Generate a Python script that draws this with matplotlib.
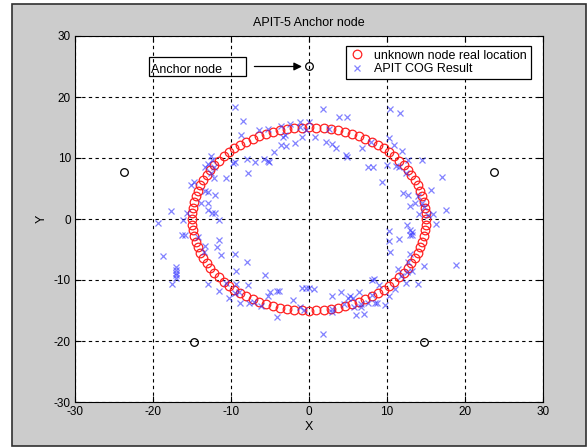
import matplotlib
matplotlib.use("Agg")
import matplotlib.pyplot as plt
from matplotlib.patches import Rectangle

plt.rcParams['font.family'] = ['Liberation Sans', 'DejaVu Sans']
plt.rcParams['axes.unicode_minus'] = False

# unknown node real locations (ring of radius 15, 100 nodes)
real_x = [15.00, 14.97, 14.88, 14.73, 14.53, 14.27, 13.95, 13.57, 13.14, 12.66, 12.14, 11.56, 10.93,
          10.27, 9.56, 8.82, 8.04, 7.23, 6.39, 5.52, 4.64, 3.73, 2.81, 1.88, 0.94, 0.00,
          -0.94, -1.88, -2.81, -3.73, -4.64, -5.52, -6.39, -7.23, -8.04, -8.82, -9.56, -10.27, -10.93,
          -11.56, -12.14, -12.66, -13.14, -13.57, -13.95, -14.27, -14.53, -14.73, -14.88, -14.97, -15.00,
          -14.97, -14.88, -14.73, -14.53, -14.27, -13.95, -13.57, -13.14, -12.66, -12.14, -11.56, -10.93,
          -10.27, -9.56, -8.82, -8.04, -7.23, -6.39, -5.52, -4.64, -3.73, -2.81, -1.88, -0.94, 0.00,
          0.94, 1.88, 2.81, 3.73, 4.64, 5.52, 6.39, 7.23, 8.04, 8.82, 9.56, 10.27, 10.93,
          11.56, 12.14, 12.66, 13.14, 13.57, 13.95, 14.27, 14.53, 14.73, 14.88, 14.97]
real_y = [0.00, 0.94, 1.88, 2.81, 3.73, 4.64, 5.52, 6.39, 7.23, 8.04, 8.82, 9.56, 10.27,
          10.93, 11.56, 12.14, 12.66, 13.14, 13.57, 13.95, 14.27, 14.53, 14.73, 14.88, 14.97, 15.00,
          14.97, 14.88, 14.73, 14.53, 14.27, 13.95, 13.57, 13.14, 12.66, 12.14, 11.56, 10.93, 10.27,
          9.56, 8.82, 8.04, 7.23, 6.39, 5.52, 4.64, 3.73, 2.81, 1.88, 0.94, 0.00,
          -0.94, -1.88, -2.81, -3.73, -4.64, -5.52, -6.39, -7.23, -8.04, -8.82, -9.56, -10.27,
          -10.93, -11.56, -12.14, -12.66, -13.14, -13.57, -13.95, -14.27, -14.53, -14.73, -14.88, -14.97, -15.00,
          -14.97, -14.88, -14.73, -14.53, -14.27, -13.95, -13.57, -13.14, -12.66, -12.14, -11.56, -10.93, -10.27,
          -9.56, -8.82, -8.04, -7.23, -6.39, -5.52, -4.64, -3.73, -2.81, -1.88, -0.94]

# APIT COG estimated positions
cog_pts = [
    (-9.5, 18.4), (-8.4, 16.0), (-8.7, 13.7), (-6.4, 14.6), (-7.9, 9.9), (-6.9, 9.3), (-9.8, 9.2),
    (-9.5, 9.3), (-7.8, 7.5), (-12.6, 10.4), (-12.4, 9.7), (-12.9, 9.0), (-12.2, 8.6), (-13.3, 8.6),
    (-10.6, 6.7), (-12.2, 6.8), (-12.6, 7.5), (-15.1, 5.6), (-14.7, 6.0), (-13.3, 4.6), (-13.0, 4.4),
    (-12.1, 4.0), (-12.9, 2.7), (-13.9, 2.6), (-17.7, 1.3), (-15.6, 1.0), (-13.0, 1.4), (-12.5, 1.0),
    (-12.0, 1.0), (-16.2, -0.2), (-11.5, -0.2), (-19.3, -0.7),
    (1.8, 18.1), (3.9, 16.8), (4.9, 16.8), (-5.2, 14.8), (-3.6, 15.3), (-2.4, 15.6), (-1.1, 15.9),
    (0.0, 15.9), (-1.2, 15.1), (-0.4, 14.6), (-3.1, 13.7), (-3.3, 13.4), (-0.9, 13.4), (0.8, 13.5),
    (2.6, 14.8), (-3.6, 12.2), (-2.9, 12.0), (-1.8, 12.5), (2.2, 12.6), (2.9, 12.3), (3.5, 11.7),
    (-4.5, 11.0), (4.8, 10.5), (4.9, 10.2), (-5.8, 9.8), (-5.3, 9.5), (-5.1, 9.3), (6.8, 11.6),
    (10.4, 18.0), (11.7, 17.3), (7.9, 12.7), (10.2, 13.3), (10.9, 12.1), (11.9, 11.2), (12.7, 9.6),
    (14.5, 9.7), (7.6, 8.6), (8.2, 8.6), (10.0, 8.9), (11.2, 8.7), (11.6, 8.5), (9.4, 6.1),
    (12.4, 7.5), (17.0, 6.9), (15.7, 4.7), (12.0, 4.2), (12.7, 3.9), (14.0, 3.8), (13.0, 2.1),
    (13.6, 2.6), (14.5, 2.7), (14.7, 1.9), (14.1, 0.9), (15.9, 0.9), (17.6, 1.4), (15.2, 0.6),
    (12.6, -1.0), (16.3, -0.9),
    (-16.3, -2.6), (-15.9, -2.6), (-14.2, -3.0), (-18.7, -6.1), (-17.1, -7.9), (-17.1, -8.4),
    (-17.1, -8.8), (-17.1, -9.2), (-17.1, -9.7), (-17.6, -10.7), (-13.3, -4.4), (-13.5, -5.4),
    (-11.8, -4.6), (-11.5, -3.4), (-11.3, -5.9), (-9.5, -5.8), (-7.9, -7.0), (-9.4, -8.5),
    (-12.9, -10.7), (-11.5, -11.8), (-10.6, -10.5), (-9.3, -10.7), (-9.0, -11.9), (-7.8, -10.9),
    (-10.2, -12.9), (-7.7, -13.7), (-8.9, -13.7), (-9.5, -12.2), (-7.0, -13.6),
    (-5.7, -9.2), (-6.2, -14.2), (-5.3, -12.6), (-5.0, -12.0), (-4.1, -11.8), (-3.8, -11.8),
    (-2.1, -13.3), (-4.1, -16.0), (-1.1, -14.5), (-0.7, -14.9), (-0.9, -11.3), (-0.4, -11.3),
    (0.0, -11.3), (0.6, -11.4), (3.0, -12.7), (2.9, -15.2), (3.0, -14.8), (1.8, -18.9),
    (4.1, -11.9), (5.0, -13.0), (5.3, -12.7), (5.6, -13.0), (5.8, -14.4), (6.0, -15.7),
    (6.4, -12.0), (6.7, -14.0), (4.5, -14.0),
    (13.0, -1.8), (13.2, -2.1), (13.0, -2.7), (13.2, -2.7), (10.2, -1.9), (10.3, -3.6),
    (11.6, -3.2), (10.4, -5.4), (13.0, -5.8), (12.7, -7.0), (14.7, -7.7), (18.9, -7.5),
    (11.4, -8.2), (13.2, -8.5), (12.6, -8.7), (11.8, -9.3), (8.1, -10.0), (8.3, -9.8),
    (12.4, -10.5), (14.0, -10.7), (9.0, -10.9), (11.0, -11.4), (8.1, -12.5), (10.3, -12.7),
    (8.5, -13.7), (8.7, -13.7), (9.7, -14.1), (6.7, -14.5), (7.1, -15.6), (7.6, -13.8),
]
cog_x = [p[0] for p in cog_pts]
cog_y = [p[1] for p in cog_pts]

# anchor nodes
anchor_x = [0.0, -23.78, 23.78, -14.69, 14.69]
anchor_y = [25.0, 7.73, 7.73, -20.23, -20.23]

ticks = [-30, -20, -10, 0, 10, 20, 30]

fig = plt.figure(figsize=(5.87, 4.48), dpi=100, facecolor='white')
# MATLAB figure window panel
panel = Rectangle((12 / 587, 2 / 448), 574 / 587, 442 / 448, transform=fig.transFigure,
                  facecolor='#cccccc', edgecolor='#303030', linewidth=1.2, zorder=-10)
fig.add_artist(panel)

ax = fig.add_axes([75 / 587, 46 / 448, 468 / 587, 366 / 448])
ax.set_zorder(5)
ax.set_facecolor('white')

ax.plot(real_x, real_y, linestyle='none', marker='o', markersize=6.2, markerfacecolor='none',
        markeredgecolor='#ff2020', markeredgewidth=0.9, label='unknown node real location', zorder=3)
ax.plot(cog_x, cog_y, linestyle='none', marker='x', markersize=4.4, color='#3030ff', alpha=0.6,
        markeredgewidth=0.9, label='APIT COG Result', zorder=4)
ax.plot(anchor_x, anchor_y, linestyle='none', marker='o', markersize=5.5, markerfacecolor='none',
        markeredgecolor='black', markeredgewidth=0.9, zorder=4)

ax.set_xlim(-30, 30)
ax.set_ylim(-30, 30)
ax.set_xticks(ticks)
ax.set_yticks(ticks)
ax.tick_params(direction='in', length=4, top=True, right=True, labelsize=8.5, width=0.8, pad=3)
ax.grid(True, color='black', linestyle=(0, (3, 3)), linewidth=0.8)
ax.set_axisbelow(True)
for s in ax.spines.values():
    s.set_linewidth(0.8)

ax.set_title('APIT-5 Anchor node', fontsize=9, pad=7)
ax.set_xlabel('X', fontsize=9, labelpad=2)
ax.set_ylabel('Y', fontsize=9, labelpad=4)

# "Anchor node" text box and arrow
ax.add_patch(Rectangle((-20.5, 23.4), 12.4, 3.2, facecolor='none', edgecolor='black',
                       linewidth=0.9, zorder=5, clip_on=False))
ax.text(-20.2, 24.5, 'Anchor node', fontsize=9, va='center', ha='left', zorder=6)
ax.annotate('', xy=(anchor_x[0] - 0.9, anchor_y[0]), xytext=(-7.0, anchor_y[0]),
            arrowprops=dict(arrowstyle='-|>', color='black', lw=0.9, mutation_scale=12,
                            shrinkA=0, shrinkB=0), zorder=6)

leg = ax.legend(loc='upper right', bbox_to_anchor=(0.974, 0.973), borderaxespad=0,
                fontsize=9, frameon=True, fancybox=False, edgecolor='black', framealpha=1,
                handlelength=1.2, handletextpad=0.8, borderpad=0.3, labelspacing=0.1)
leg.get_frame().set_linewidth(0.9)

fig.savefig('out.png', dpi=100, facecolor=fig.get_facecolor())
